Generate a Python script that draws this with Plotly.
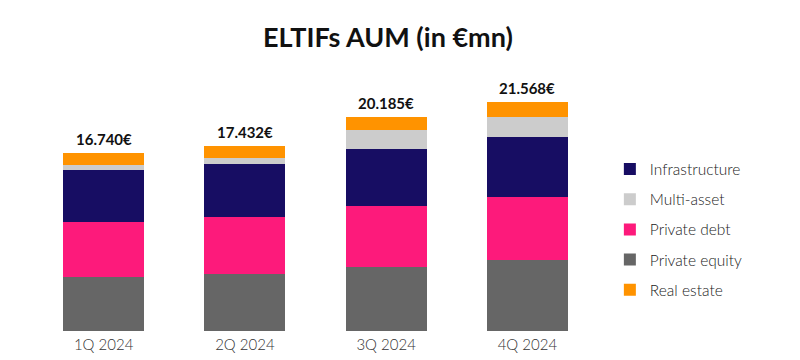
import plotly.graph_objects as go

categories = ["1Q 2024", "2Q 2024", "3Q 2024", "4Q 2024"]
private_equity = [5080, 5360, 6020, 6690]
private_debt = [5175, 5360, 5740, 5935]
infrastructure = [4885, 4985, 5360, 5645]
multi_asset = [470, 565, 1790, 1880]
real_estate = [1130, 1162, 1275, 1418]
totals = [16740, 17432, 20185, 21568]
total_labels = ["16.740€", "17.432€", "20.185€", "21.568€"]

series = [
    ("Private equity", private_equity, "#666666", 4),
    ("Private debt", private_debt, "#FD1A7B", 3),
    ("Infrastructure", infrastructure, "#170D63", 1),
    ("Multi-asset", multi_asset, "#CCCCCC", 2),
    ("Real estate", real_estate, "#FF9300", 5),
]

fig = go.Figure()
for name, vals, color, rank in series:
    fig.add_trace(go.Bar(
        x=categories, y=vals, name=name, marker=dict(color=color, line=dict(width=0)),
        legendrank=rank, legendgroup=name, hoverinfo="skip",
    ))

for c, t, lbl in zip(categories, totals, total_labels):
    fig.add_annotation(x=c, y=t, text=f"<b>{lbl}</b>", showarrow=False,
                       yanchor="bottom", yshift=3,
                       font=dict(family="Lato", size=15, color="#111111"))

fig.update_layout(
    width=800, height=360,
    barmode="stack", bargap=0.426,
    plot_bgcolor="white", paper_bgcolor="white",
    margin=dict(l=25, r=210, t=68, b=37),
    title=dict(text="<b>ELTIFs AUM (in €mn)</b>", x=0.475, xanchor="center",
               y=0.917, yanchor="middle",
               font=dict(family="Lato", size=27, color="#111111")),
    xaxis=dict(showgrid=False, showline=False, ticks="", zeroline=False,
               ticklabelstandoff=3,
               tickfont=dict(family="Lato", size=15, color="#333333", weight=300)),
    yaxis=dict(range=[0, 24000], visible=False),
    showlegend=True,
    legend=dict(x=1.021, xanchor="left", y=0.398, yanchor="middle",
                traceorder="grouped", tracegroupgap=7,
                font=dict(family="Lato", size=15.5, color="#222222", weight=300),
                itemwidth=30),
)

fig.write_html("out.html")
